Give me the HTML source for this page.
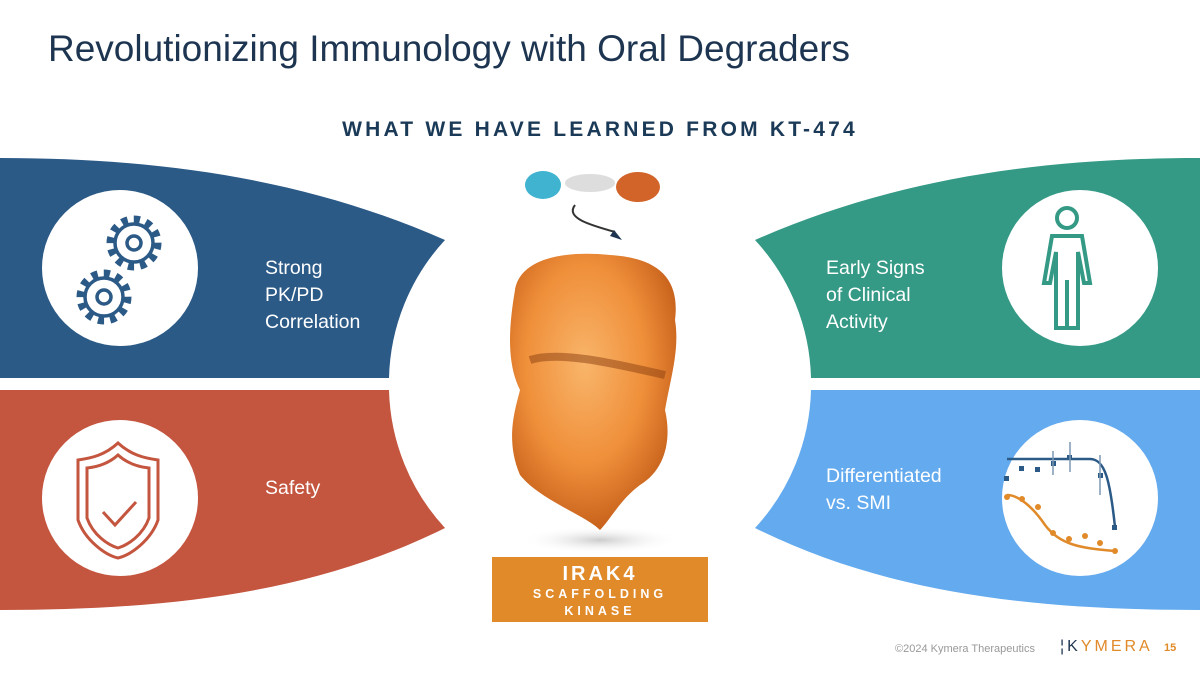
<!DOCTYPE html>
<html><head><meta charset="utf-8"><style>
body{margin:0;width:1200px;height:675px;overflow:hidden;background:#fff;font-family:"Liberation Sans",sans-serif;position:relative}
.t{position:absolute;white-space:nowrap}
</style></head><body>
<div class="t" style="left:48px;top:28px;font-size:37px;color:#1d3550">Revolutionizing Immunology with Oral Degraders</div>
<div class="t" style="left:0;width:1200px;text-align:center;top:118px;font-size:21px;font-weight:bold;letter-spacing:3.2px;color:#1b3a57">WHAT WE HAVE LEARNED FROM KT-474</div>
<svg width="1200" height="675" style="position:absolute;left:0;top:0">
<defs>
<radialGradient id="og" cx="45%" cy="40%" r="60%"><stop offset="0" stop-color="#f9b56a"/><stop offset="0.6" stop-color="#ef8f3a"/><stop offset="1" stop-color="#c8621c"/></radialGradient>
<radialGradient id="sh" cx="50%" cy="50%" r="50%"><stop offset="0" stop-color="#ccc"/><stop offset="1" stop-color="#fff" stop-opacity="0"/></radialGradient>
</defs>
<path d="M0,158 C180,158 320,185 445,240 A211,211 0 0 0 389,378 L0,378 Z" fill="#2c5a87"/>
<path d="M0,390 L389,390 A211,211 0 0 0 445,528 C320,590 180,610 0,610 Z" fill="#c4553e"/>
<path d="M1200,158 C1020,158 880,185 755,240 A211,211 0 0 1 811,378 L1200,378 Z" fill="#349a85"/>
<path d="M1200,390 L811,390 A211,211 0 0 1 755,528 C880,590 1020,610 1200,610 Z" fill="#63aaee"/>
<circle cx="120" cy="268" r="78" fill="#fff"/>
<circle cx="120" cy="498" r="78" fill="#fff"/>
<circle cx="1080" cy="268" r="78" fill="#fff"/>
<circle cx="1080" cy="498" r="78" fill="#fff"/>
<g fill="none" stroke="#2c5a87" stroke-width="3.5">
<circle cx="134" cy="243" r="23" stroke-dasharray="6 6" stroke-width="9"/>
<circle cx="134" cy="243" r="19"/><circle cx="134" cy="243" r="7"/>
<circle cx="104" cy="297" r="23" stroke-dasharray="6 6" stroke-width="9"/>
<circle cx="104" cy="297" r="19"/><circle cx="104" cy="297" r="7"/>
</g>
<g fill="none" stroke="#c4553e" stroke-width="3">
<path d="M118,443 C105,455 92,458 78,460 L78,520 C85,540 105,555 118,558 C131,555 151,540 158,520 L158,460 C144,458 131,455 118,443 Z"/>
<path d="M118,455 C108,464 97,467 87,468 L87,518 C93,535 108,545 118,548 C128,545 143,535 149,518 L149,468 C139,467 128,464 118,455 Z"/>
<path d="M103,512 L115,525 L136,502"/>
</g>
<g fill="none" stroke="#349a85" stroke-width="4">
<circle cx="1067" cy="218" r="10"/>
<path d="M1052,236 L1082,236 L1090,283 L1084,283 L1078,252 L1078,328 L1056,328 L1056,252 L1050,283 L1044,283 Z"/>
<path d="M1067,280 L1067,328"/>
</g>
<g fill="none">
<path d="M1007,459 L1090,459 C1105,459 1110,480 1115,527" stroke="#2c5a87" stroke-width="2.5"/>
<path d="M1007,495 C1020,495 1035,510 1045,525 C1060,545 1080,548 1115,551" stroke="#e08a2a" stroke-width="2.5"/>
<g fill="#2c5a87"><rect x="1004" y="476" width="5" height="5"/><rect x="1019" y="466" width="5" height="5"/><rect x="1035" y="467" width="5" height="5"/><rect x="1051" y="461" width="5" height="5"/><rect x="1067" y="455" width="5" height="5"/><rect x="1098" y="473" width="5" height="5"/><rect x="1112" y="525" width="5" height="5"/></g>
<g fill="#e08a2a"><circle cx="1007" cy="497" r="3"/><circle cx="1022" cy="499" r="3"/><circle cx="1038" cy="507" r="3"/><circle cx="1053" cy="533" r="3"/><circle cx="1069" cy="539" r="3"/><circle cx="1085" cy="536" r="3"/><circle cx="1100" cy="543" r="3"/><circle cx="1115" cy="551" r="3"/></g>
<path d="M1070,442 L1070,472 M1100,455 L1100,495 M1053,451 L1053,475" stroke="#7d98b3" stroke-width="1.5"/>
</g>
<ellipse cx="600" cy="540" rx="80" ry="14" fill="url(#sh)"/>
<ellipse cx="543" cy="185" rx="18" ry="14" fill="#3fb3cf"/>
<ellipse cx="590" cy="183" rx="25" ry="9" fill="#ddd"/>
<ellipse cx="638" cy="187" rx="22" ry="15" fill="#d2642a"/>
<path d="M575,205 C565,218 590,225 615,232" fill="none" stroke="#333" stroke-width="2"/>
<path d="M610,236 L622,240 L614,230 Z" fill="#1d3550"/>
<path d="M515,290 C520,260 560,250 610,255 C660,258 680,280 675,320 C680,350 670,380 665,410 C672,440 665,470 640,485 C620,500 610,520 600,530 C585,515 540,500 520,475 C505,440 515,410 520,390 C505,360 510,320 515,290 Z" fill="url(#og)"/>
<path d="M530,360 C560,350 620,365 665,375" stroke="#8a3e10" stroke-width="8" fill="none" opacity="0.5"/>
<rect x="492" y="557" width="216" height="65" fill="#e08a2a"/>
</svg>
<div class="t" style="left:492px;width:216px;text-align:center;top:563px;font-size:20px;font-weight:bold;letter-spacing:3px;color:#fff">IRAK4</div>
<div class="t" style="left:492px;width:216px;text-align:center;top:587px;font-size:12.5px;font-weight:bold;letter-spacing:4px;color:#fff">SCAFFOLDING</div>
<div class="t" style="left:492px;width:216px;text-align:center;top:604px;font-size:12.5px;font-weight:bold;letter-spacing:4px;color:#fff">KINASE</div>
<div class="t" style="left:265px;top:255px;font-size:19.5px;line-height:27px;color:#fff">Strong<br>PK/PD<br>Correlation</div>
<div class="t" style="left:265px;top:477px;font-size:19.5px;color:#fff">Safety</div>
<div class="t" style="left:826px;top:255px;font-size:19.5px;line-height:27px;color:#fff">Early Signs<br>of Clinical<br>Activity</div>
<div class="t" style="left:826px;top:463px;font-size:19.5px;line-height:27px;color:#fff">Differentiated<br>vs. SMI</div>
<div class="t" style="left:895px;top:643px;font-size:11px;color:#999">©2024 Kymera Therapeutics</div>
<div class="t" style="left:1060px;top:638px;font-size:16px;letter-spacing:3px;color:#e08a2a"><span style="color:#1d3550">¦K</span>YMERA</div>
<div class="t" style="left:1164px;top:642px;font-size:11px;font-weight:bold;color:#e08a2a">15</div>
</body></html>
